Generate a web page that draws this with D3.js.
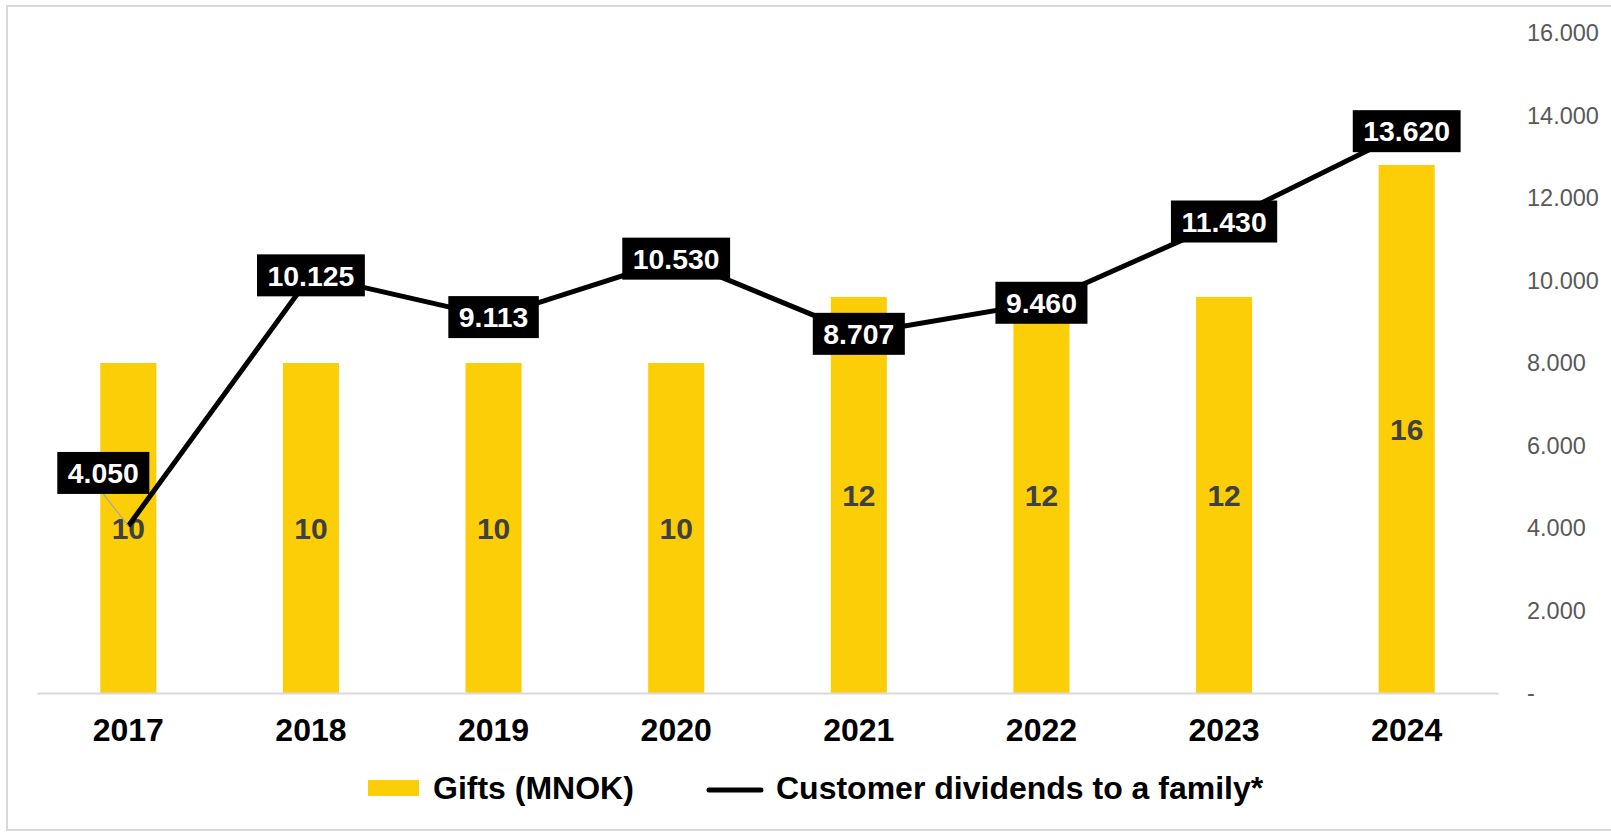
<!DOCTYPE html>
<html>
<head>
<meta charset="utf-8">
<script src="https://cdn.jsdelivr.net/npm/d3@7"></script>
<style>
  html, body { margin: 0; padding: 0; background: #fff; }
  svg { display: block; }
  text { font-family: "Liberation Sans", Arial, sans-serif; }
</style>
</head>
<body>
<svg id="chart" width="1611" height="833"></svg>
<script>
// Chart data
const years = ["2017", "2018", "2019", "2020", "2021", "2022", "2023", "2024"];
const gifts = [10, 10, 10, 10, 12, 12, 12, 16];                       // MNOK
const dividends = [4050, 10125, 9113, 10530, 8707, 9460, 11430, 13620]; // NOK per family
const rightTicks = [0, 2000, 4000, 6000, 8000, 10000, 12000, 14000, 16000];
const seriesNames = ["Gifts (MNOK)", "Customer dividends to a family*"];

const YELLOW = "#FBCE07";
const GRID = "#d9d9d9";

const svg = d3.select("#chart");

// Outer frame
svg.append("rect")
  .attr("x", 7).attr("y", 6)
  .attr("width", 1700).attr("height", 824)
  .attr("fill", "none").attr("stroke", GRID).attr("stroke-width", 2);

const plot = { left: 37, right: 1498, top: 33, bottom: 693 };

const x = d3.scaleBand().domain(years).range([plot.left, plot.right]).paddingInner(0.693).paddingOuter(0.3465);
const yGifts = d3.scaleLinear().domain([0, 20]).range([plot.bottom, plot.top]);
const yDiv = d3.scaleLinear().domain([0, 16000]).range([plot.bottom, plot.top]);

const fmt = v => v === 0 ? "-" : d3.format(",")(v).replace(/,/g, ".");

// Bars
svg.append("g").selectAll("rect").data(gifts).join("rect")
  .attr("x", (d, i) => x(years[i]))
  .attr("y", d => yGifts(d))
  .attr("width", x.bandwidth())
  .attr("height", d => yGifts(0) - yGifts(d))
  .attr("fill", YELLOW);

// Bar value labels
svg.append("g").selectAll("text").data(gifts).join("text")
  .attr("x", (d, i) => x(years[i]) + x.bandwidth() / 2)
  .attr("y", d => (yGifts(0) + yGifts(d)) / 2)
  .attr("dy", "0.36em")
  .attr("text-anchor", "middle")
  .attr("font-size", 30).attr("font-weight", "bold")
  .attr("fill", "#404040")
  .text(d => d);

// X axis
const xAxis = svg.append("g")
  .attr("transform", `translate(0,${plot.bottom})`)
  .call(d3.axisBottom(x).tickSize(0).tickPadding(25));
xAxis.select(".domain").attr("stroke", GRID).attr("stroke-width", 2);
xAxis.selectAll("text")
  .attr("font-family", "Liberation Sans, Arial, sans-serif")
  .attr("font-size", 32).attr("font-weight", "bold").attr("fill", "#000");

// Right axis
const yAxis = svg.append("g")
  .attr("transform", `translate(${plot.right},0)`)
  .call(d3.axisRight(yDiv).tickValues(rightTicks).tickFormat(fmt).tickSize(0).tickPadding(29));
yAxis.select(".domain").remove();
yAxis.selectAll("text")
  .attr("font-family", "Liberation Sans, Arial, sans-serif")
  .attr("font-size", 23.5).attr("fill", "#595959");

// Dividend line
const cx = i => x(years[i]) + x.bandwidth() / 2;
const line = d3.line().x((d, i) => cx(i)).y(d => yDiv(d));
svg.append("path")
  .datum(dividends)
  .attr("d", line)
  .attr("fill", "none").attr("stroke", "#000").attr("stroke-width", 5)
  .attr("stroke-linejoin", "round");

// Data labels (boxed); the first one is moved off its point with a leader line
const labelShift = { "2017": [-25, -53] };
const labels = svg.append("g");
dividends.forEach((d, i) => {
  const px = cx(i), py = yDiv(d);
  const [dx, dy] = labelShift[years[i]] || [0, 0];
  const lx = px + dx, ly = py + dy;
  const g = labels.append("g");
  if (dx || dy) {
    g.append("line")
      .attr("x1", lx).attr("y1", ly + 21)
      .attr("x2", px).attr("y2", py)
      .attr("stroke", "#a6a6a6").attr("stroke-width", 1.2);
  }
  const rect = g.append("rect").attr("fill", "#000");
  const t = g.append("text")
    .attr("x", lx).attr("y", ly).attr("dy", "0.36em")
    .attr("text-anchor", "middle")
    .attr("font-size", 28.4).attr("font-weight", "bold").attr("fill", "#fff")
    .text(fmt(d));
  const w = t.node().getComputedTextLength() + 21;
  rect.attr("x", lx - w / 2).attr("y", ly - 21).attr("width", w).attr("height", 42);
});

// Legend
const legend = svg.append("g");
legend.append("rect")
  .attr("x", 368).attr("y", 780).attr("width", 51).attr("height", 16)
  .attr("fill", YELLOW);
legend.append("text")
  .attr("x", 433).attr("y", 799)
  .attr("font-size", 32).attr("font-weight", "bold").attr("fill", "#000")
  .text(seriesNames[0]);
legend.append("line")
  .attr("x1", 709).attr("x2", 761).attr("y1", 790).attr("y2", 790)
  .attr("stroke", "#000").attr("stroke-width", 5).attr("stroke-linecap", "round");
legend.append("text")
  .attr("x", 776).attr("y", 799)
  .attr("font-size", 32).attr("font-weight", "bold").attr("fill", "#000")
  .text(seriesNames[1]);
</script>
</body>
</html>
